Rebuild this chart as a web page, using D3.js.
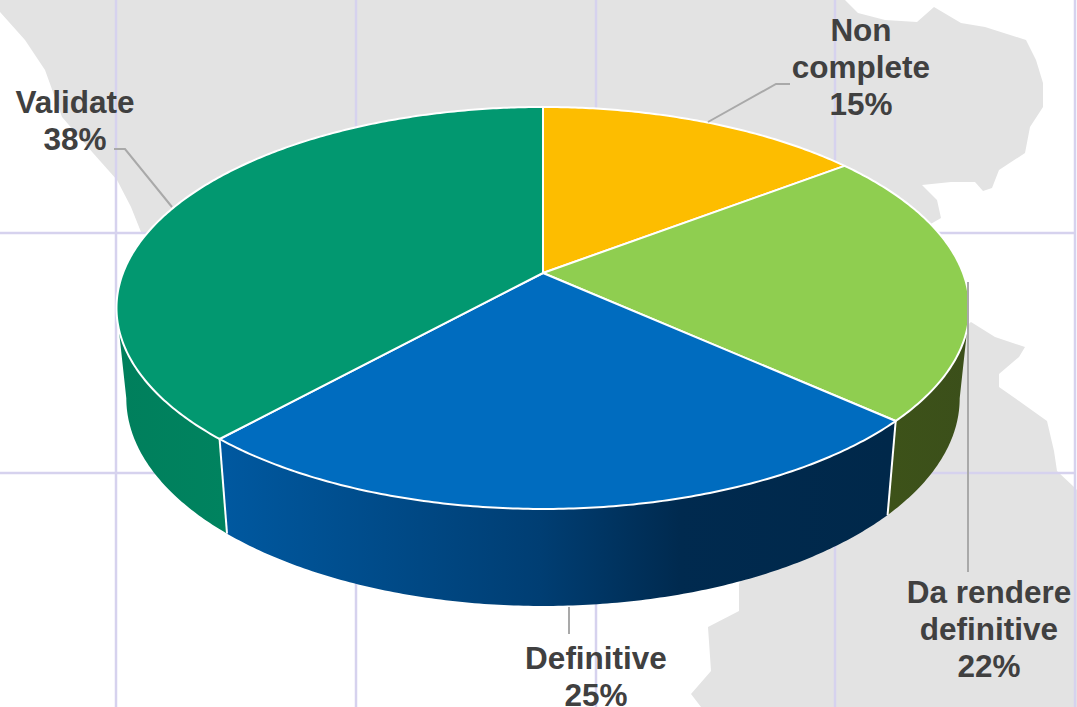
<!DOCTYPE html>
<html>
<head>
<meta charset="utf-8">
<script src="https://cdnjs.cloudflare.com/ajax/libs/d3/7.8.5/d3.min.js"></script>
<style>
    html, body { margin: 0; padding: 0; background: #fff; overflow: hidden; }
    text { font-family: "Liberation Sans", Arial, sans-serif; font-weight: 700; }
</style>
</head>
<body>
<div id="chart"></div>
<script>
// clockwise from 12 o'clock, share in percent
const categories = ["Non complete", "Da rendere definitive", "Definitive", "Validate"];
const shares = [14.6, 22.1, 25.0, 38.3];
const topColors = ["#fdbd00", "#8fce50", "#006cbf", "#029870"];
// rim shading, left to right, [x, colour]
const sideStops = [
    [[228, "#a87d00"], [890, "#a87d00"]],
    [[890, "#3d5219"], [970, "#3b4f1a"]],
    [[228, "#00589f"], [540, "#003e73"], [680, "#002a4f"], [890, "#00284a"]],
    [[116, "#007f5c"], [228, "#00835f"]]
];

// label lines, leader polylines and the map behind the pie
const labelLines = [["Non", "complete"], ["Da rendere", "definitive"], ["Definitive"], ["Validate"]];
const labelAnchors = [[861, 41], [989, 603], [596, 669], [75, 113]];
const leaders = [
    [[708, 122], [776, 84], [790, 84]],
    [[968, 282], [968, 572]],
    [[569, 607], [569, 634]],
    [[172, 207], [125, 149], [114, 149]]
];
const mapNorth = [[0, 0], [845, 0], [858, 13], [885, 20], [917, 22], [934, 7], [961, 23], [985, 27], [1026, 40],
    [1036, 60], [1043, 83], [1043, 107], [1030, 127], [1025, 153], [999, 170], [992, 188], [983, 191], [975, 182],
    [951, 182], [922, 185], [937, 200], [941, 218], [800, 300], [300, 300], [141, 232], [131, 207], [117, 180],
    [93, 153], [62, 117], [45, 70], [25, 40], [0, 12]];
const mapSouth = [[971, 322], [995, 337], [1025, 347], [1019, 357], [999, 374], [999, 387], [1019, 401], [1047, 421],
    [1054, 451], [1057, 471], [1074, 487], [1077, 490], [1077, 707], [701, 707], [691, 694], [711, 671], [708, 627],
    [739, 611], [739, 584], [800, 450]];
const gridX = [116, 356, 596, 835, 1075];
const gridY = [233, 473];

const width = 1077, height = 707;

const svg = d3.select("#chart")
    .append("svg")
    .attr("width", width)
    .attr("height", height)
    .style("display", "block");

/** background */
const outline = d3.line();
const bg = svg.append("g").attr("class", "background");
bg.append("path").attr("d", outline(mapNorth) + "Z").attr("fill", "#e3e3e3");
bg.append("path").attr("d", outline(mapSouth) + "Z").attr("fill", "#e3e3e3");
bg.selectAll(".gridX").data(gridX).enter().append("line")
    .attr("x1", d => d).attr("x2", d => d)
    .attr("y1", 0).attr("y2", height)
    .attr("stroke", "#d6d2ee").attr("stroke-width", 2.5);
bg.selectAll(".gridY").data(gridY).enter().append("line")
    .attr("x1", 0).attr("x2", 1075)
    .attr("y1", d => d).attr("y2", d => d)
    .attr("stroke", "#d6d2ee").attr("stroke-width", 2.5);

/** perspective of the disc: apex sits above the ellipse centre */
const cx = 543, apexY = 273, radius = 420;
const persp = -0.174, spreadY = 147.4;
const project = angle => {
    const u = Math.sin(angle), v = -Math.cos(angle);
    const w = 1 + persp * v;
    return [cx + radius * u / w, (apexY + spreadY * v) / w];
};
// bottom rim: narrower in x, and the wall gets taller towards the viewer
const shrink = 0.977;
const wallDepth = d3.scaleLinear().domain([420, 509]).range([94, 97]);
const lower = p => [cx + (p[0] - cx) * shrink, p[1] + wallDepth(p[1])];

const arcPoints = (a0, a1) => {
    const n = Math.max(2, Math.ceil((a1 - a0) / 0.01));
    return d3.range(n + 1).map(i => project(a0 + (a1 - a0) * i / n));
};

const slices = d3.pie().sort(null).value(d => d)(shares);

// the wall only faces the viewer between the two silhouette angles
const faceFrom = Math.acos(persp), faceTo = 2 * Math.PI - faceFrom;

/** gradients for the rim */
const defs = svg.append("defs");
slices.forEach((s, i) => {
    const stops = sideStops[i];
    const x0 = stops[0][0], x1 = stops[stops.length - 1][0];
    const grad = defs.append("linearGradient")
        .attr("id", "side" + i)
        .attr("gradientUnits", "userSpaceOnUse")
        .attr("x1", x0).attr("x2", x1)
        .attr("y1", 0).attr("y2", 0);
    stops.forEach(st => {
        grad.append("stop").attr("offset", (st[0] - x0) / (x1 - x0)).attr("stop-color", st[1]);
    });
});

/** rim */
const pie = svg.append("g").attr("class", "pie");
slices.forEach((s, i) => {
    const a0 = Math.max(s.startAngle, faceFrom), a1 = Math.min(s.endAngle, faceTo);
    if (a1 <= a0) return;
    const top = arcPoints(a0, a1);
    const bottom = top.map(lower).reverse();
    pie.append("path")
        .attr("class", "side")
        .attr("d", outline(top.concat(bottom)) + "Z")
        .attr("fill", `url(#side${i})`);
});
// white seams on the visible rim
[slices[1].endAngle, slices[2].endAngle].forEach(a => {
    const p = project(a), q = lower(p);
    pie.append("line")
        .attr("x1", p[0]).attr("y1", p[1]).attr("x2", q[0]).attr("y2", q[1])
        .attr("stroke", "#fff").attr("stroke-width", 2);
});

/** top face */
pie.selectAll(".slice")
    .data(slices)
    .enter()
    .append("path")
    .attr("class", "slice")
    .attr("d", s => outline([[cx, apexY]].concat(arcPoints(s.startAngle, s.endAngle))) + "Z")
    .attr("fill", (s, i) => topColors[i])
    .attr("stroke", "#fff")
    .attr("stroke-width", 2)
    .attr("stroke-linejoin", "round");

/** leaders and labels */
const leaderLine = d3.line();
svg.append("g").attr("class", "leaders")
    .selectAll("path")
    .data(leaders)
    .enter()
    .append("path")
    .attr("d", d => leaderLine(d))
    .attr("fill", "none")
    .attr("stroke", "#a9a9a9")
    .attr("stroke-width", 2);

const fontsize = 31.5, lineHeight = 37;
const labels = svg.append("g").attr("class", "labels");
categories.forEach((c, i) => {
    const lines = labelLines[i].concat(Math.round(shares[i]) + "%");
    labels.append("text")
        .attr("text-anchor", "middle")
        .attr("font-size", fontsize)
        .attr("fill", "#404040")
        .selectAll("tspan")
        .data(lines)
        .enter()
        .append("tspan")
        .attr("x", labelAnchors[i][0])
        .attr("y", (d, j) => labelAnchors[i][1] + j * lineHeight)
        .text(d => d);
});
</script>
</body>
</html>
